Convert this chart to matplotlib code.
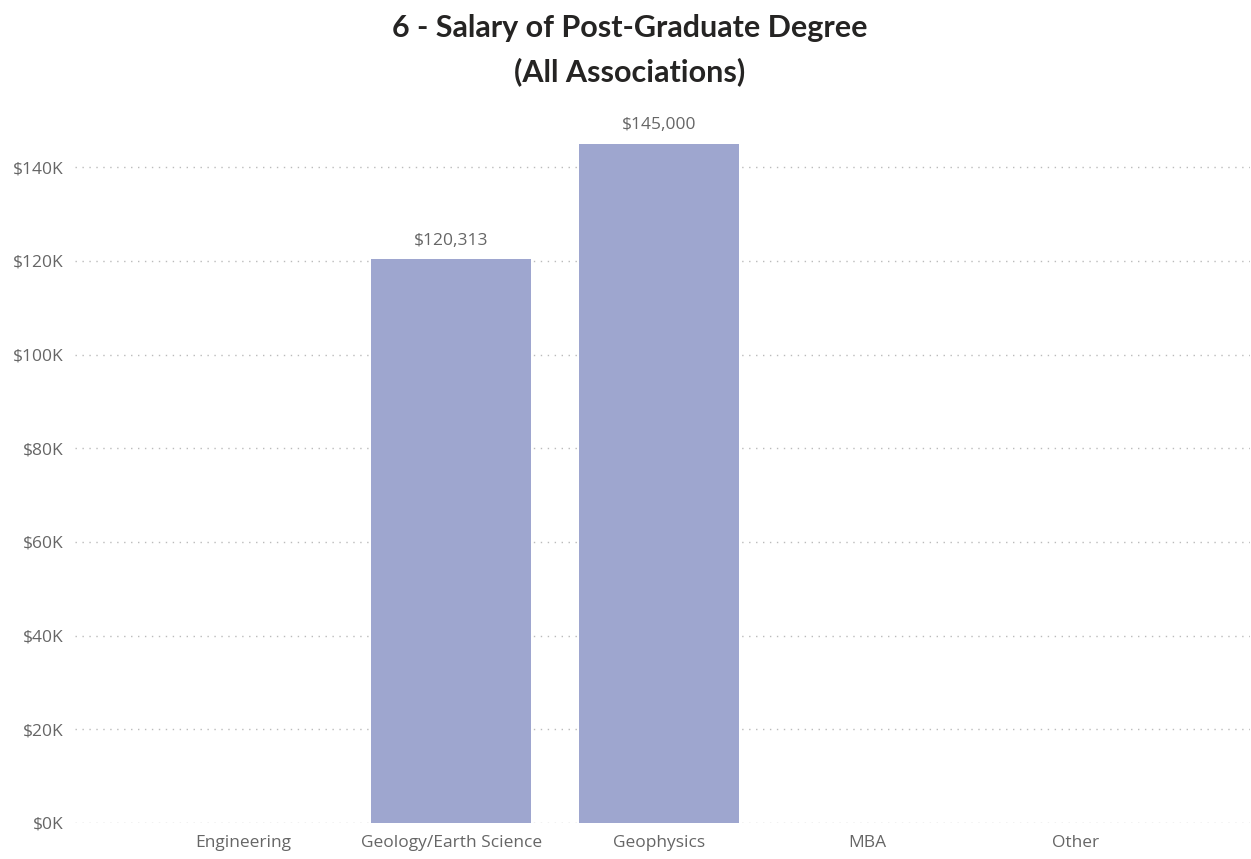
import matplotlib
matplotlib.use("Agg")
import matplotlib.pyplot as plt
from matplotlib.ticker import FuncFormatter

# data
degrees = ["Engineering", "Geology/Earth Science", "Geophysics", "MBA", "Other"]
salaries = [0, 120313, 145000, 0, 0]
y_ticks = [0, 20000, 40000, 60000, 80000, 100000, 120000, 140000]

bar_color = "#9EA6CF"
text_grey = "#666666"

plt.rcParams["font.family"] = ["Open Sans", "DejaVu Sans"]

fig = plt.figure(figsize=(12.51, 8.59), dpi=100)
ax = fig.add_axes([0.06, 0.042, 0.939, 0.796])

x = list(range(len(degrees)))
bars = ax.bar(x, salaries, width=0.77, color=bar_color, zorder=3)

for xi, val in zip(x, salaries):
    if val > 0:
        ax.text(xi, val + 2300, f"${val:,.0f}", ha="center", va="bottom",
                fontsize=12.5, color=text_grey)

ax.set_xlim(-0.81, 4.84)
ax.set_ylim(0, 146000)
ax.set_xticks(x)
ax.set_xticklabels(degrees, fontsize=12.5, color=text_grey)
ax.set_yticks(y_ticks)
ax.yaxis.set_major_formatter(FuncFormatter(lambda v, p: f"${v/1000:.0f}K"))
ax.tick_params(axis="y", labelsize=12.5, labelcolor=text_grey, length=0, pad=8)
ax.tick_params(axis="x", length=0, pad=9)

ax.grid(axis="y", linestyle=(0, (1, 4)), color="#BBBBBB", linewidth=1.0, zorder=0)
for s in ax.spines.values():
    s.set_visible(False)

fig.text(0.503, 0.967, "6 - Salary of Post-Graduate Degree", ha="center", va="center",
         fontsize=22, fontweight="bold", color="#252423", family=["Lato", "DejaVu Sans"])
fig.text(0.503, 0.917, "(All Associations)", ha="center", va="center",
         fontsize=22, fontweight="bold", color="#252423", family=["Lato", "DejaVu Sans"])

fig.savefig("out.png", dpi=100)
